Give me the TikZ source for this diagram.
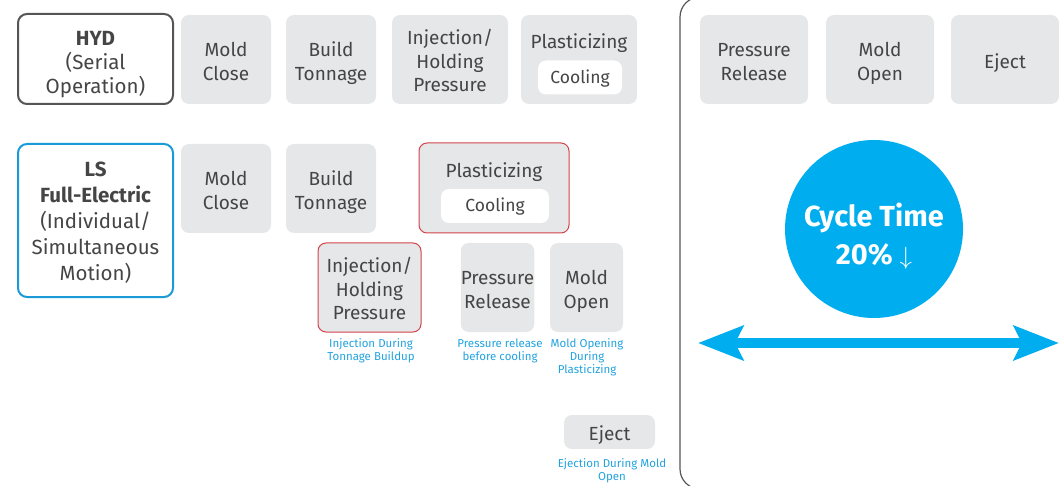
\documentclass[tikz,border=0pt]{standalone}
\usepackage{fontspec}
\setmainfont{Fira Sans}
\usetikzlibrary{arrows.meta}
\definecolor{boxgray}{HTML}{E6E7E8}
\definecolor{textgray}{HTML}{454545}
\definecolor{hydgray}{HTML}{555555}
\definecolor{lsblue}{HTML}{1B9AD8}
\definecolor{newred}{HTML}{D2444C}
\definecolor{cyclecyan}{HTML}{00AEEF}
\definecolor{notecyan}{HTML}{22A3DE}
\newcommand\rowA{59.5}
\newcommand\rowB{188.5}
\newcommand\rowC{287.5}
\newcommand\boxH{89pt}
\tikzset{
	stepbox/.style={fill=boxgray, rounded corners=8pt, inner sep=0pt, align=center,
		text=textgray, font=\fontsize{19}{23.5}\selectfont, minimum height=\boxH,
		text height=41.3pt, text depth=0.2pt},
	onerow/.style={text height=17.8pt},
	threerow/.style={text height=64.8pt},
	newbox/.style={stepbox, draw=newred, line width=1pt},
	coolbox/.style={fill=white, rounded corners=8pt, inner sep=0pt, text=textgray,
		font=\fontsize{17.5}{20}\selectfont, minimum height=34pt, text height=13pt, text depth=1pt},
	machinebox/.style={draw, line width=2pt, fill=white, rounded corners=9pt, inner sep=0pt,
		align=center, text=textgray, minimum width=155pt, text depth=0.2pt},
	note/.style={text=notecyan, font=\fontsize{11.5}{13}\selectfont, align=center,
		anchor=north, inner sep=0pt},
}

\begin{document}
\begin{tikzpicture}[x=1pt, y=-1pt]
	\useasboundingbox (0,0) rectangle (1059,486);

	% right panel
	\draw[hydgray, line width=1.2pt, rounded corners=20pt]
		(1100,-3) -- (680,-3) -- (680,489) -- (1100,489);

	% HYD row
	\node[machinebox, draw=hydgray, minimum height=90pt, text height=68.8pt,
		font=\fontsize{20.5}{24}\selectfont] (hyd) at (95.5,59)
		{\textbf{HYD}\\(Serial\\Operation)};
	\node[stepbox, minimum width=90pt] (closeA) at (226,\rowA) {Mold\\Close};
	\node[stepbox, minimum width=90pt] (tonA) at (331,\rowA) {Build\\Tonnage};
	\node[stepbox, threerow, minimum width=116pt] (injA) at (450,\rowA) {Injection/\\Holding\\Pressure};
	\node[stepbox, minimum width=116pt] (plastA) at (579,\rowA) {};
	\node[text=textgray, font=\fontsize{19}{24}\selectfont, anchor=base, inner sep=0pt] (plastAtxt)
		at (579,48.3) {Plasticizing};
	\node[coolbox, minimum width=84pt] (coolA) at (580,77.5) {Cooling};
	\node[stepbox, minimum width=108pt] (relA) at (754,\rowA) {Pressure\\Release};
	\node[stepbox, minimum width=108pt] (openA) at (880,\rowA) {Mold\\Open};
	\node[stepbox, onerow, minimum width=108pt] (ejectA) at (1005,\rowA) {Eject};

	% LS row
	\node[machinebox, draw=lsblue, minimum height=153pt, text height=120.6pt,
		font=\fontsize{20.5}{26}\selectfont] (ls) at (95.5,220.5)
		{\textbf{LS}\\\textbf{Full-Electric}\\(Individual/\\Simultaneous\\Motion)};
	\node[stepbox, minimum width=90pt] (closeB) at (226,\rowB) {Mold\\Close};
	\node[stepbox, minimum width=90pt] (tonB) at (331,\rowB) {Build\\Tonnage};
	\node[newbox, minimum width=150pt, minimum height=90pt] (plastB) at (494,188) {};
	\node[text=textgray, font=\fontsize{19}{24}\selectfont, anchor=base, inner sep=0pt] (plastBtxt)
		at (494,177.5) {Plasticizing};
	\node[coolbox, minimum width=108pt] (coolB) at (495,206) {Cooling};
	\node[newbox, threerow, minimum width=103pt] (injB) at (369.5,\rowC) {Injection/\\Holding\\Pressure};
	\node[stepbox, minimum width=73pt] (relB) at (497.5,\rowC) {Pressure\\Release};
	\node[stepbox, minimum width=73pt] (openB) at (586.5,\rowC) {Mold\\Open};
	\node[stepbox, onerow, minimum width=91pt, minimum height=34pt] (ejectB) at (609.5,432) {Eject};

	% notes
	\node[note] (injNote) at (371,338.5) {Injection During\\Tonnage Buildup};
	\node[note] (relNote) at (500,338.5) {Pressure release\\before cooling};
	\node[note] (openNote) at (587,338.5) {Mold Opening\\During\\Plasticizing};
	\node[note] (ejectNote) at (612,458.5) {Ejection During Mold\\Open};

	% cycle time
	\node[circle, fill=cyclecyan, minimum size=178pt, inner sep=0pt] (cycle) at (874,229) {};
	\node[text=white, align=center, anchor=base, inner sep=0pt,
		font=\bfseries\fontsize{29}{38}\selectfont] (cycleTxt)
		at (874,264) {Cycle Time\\20\% $\downarrow$};
	\coordinate (spanL) at (698,343);
	\coordinate (spanR) at (1059,343);
	\draw[cyclecyan, line width=10pt,
		{Stealth[length=45pt, width=34pt, inset=8pt]}-{Stealth[length=45pt, width=34pt, inset=8pt]}]
		(spanL) -- (spanR);
\end{tikzpicture}
\end{document}
